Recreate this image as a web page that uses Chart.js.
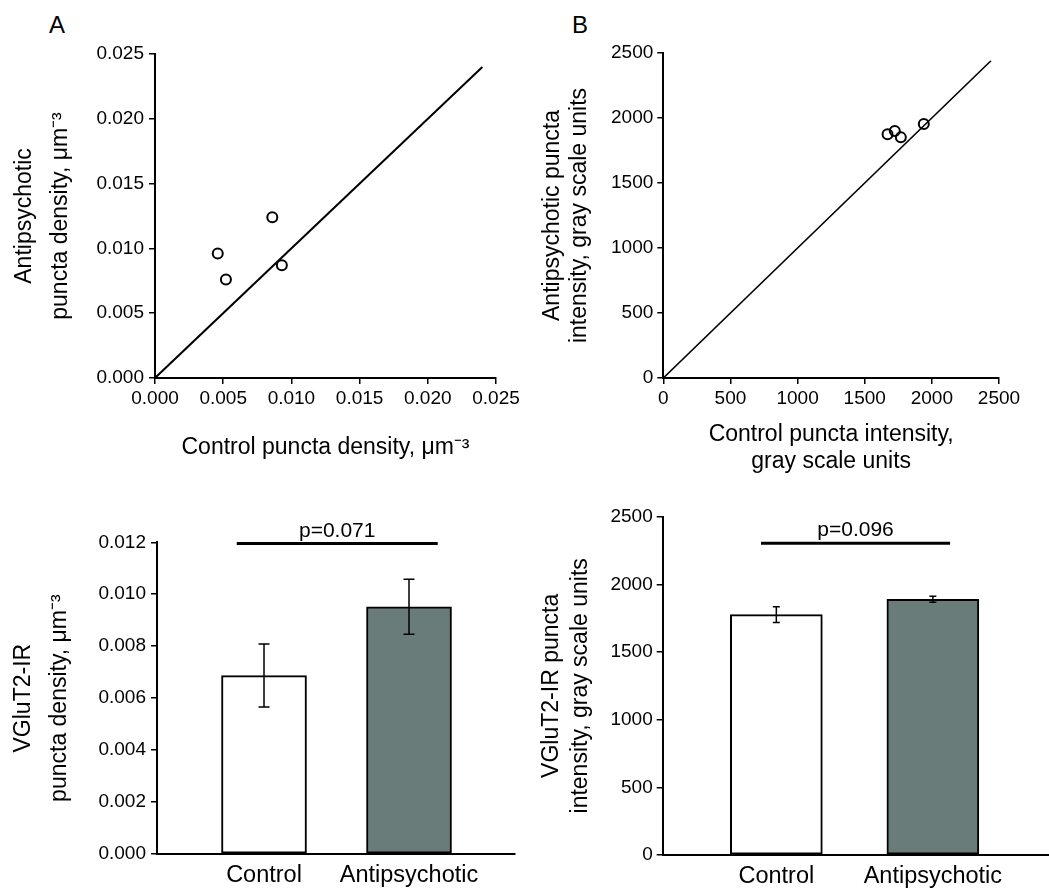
<!DOCTYPE html>
<html>
<head>
<meta charset="utf-8">
<script src="https://cdn.jsdelivr.net/npm/chart.js@4.4.1/dist/chart.umd.min.js"></script>
<style>
  body { margin: 0; background: #fff; width: 1049px; height: 888px; position: relative; overflow: hidden; }
  canvas { position: absolute; }
  .panel { position: absolute; font: 24px "Liberation Sans", Arial, sans-serif; line-height: 24px; color: #000; }
</style>
</head>
<body>
<div class="panel" style="left:49px;top:13px">A</div>
<div class="panel" style="left:572px;top:13px">B</div>
<canvas id="scatterDensity" width="540" height="480" style="left:0;top:0"></canvas>
<canvas id="scatterIntensity" width="529" height="480" style="left:520px;top:0"></canvas>
<canvas id="barDensity" width="540" height="408" style="left:0;top:480px"></canvas>
<canvas id="barIntensity" width="529" height="408" style="left:520px;top:480px"></canvas>
<script>
// per-subject values, control vs antipsychotic
const densityControl = [0.0046, 0.0052, 0.0086, 0.0093];
const densityAntipsychotic = [0.0096, 0.0076, 0.0124, 0.0087];
const intensityControl = [1670, 1724, 1769, 1940];
const intensityAntipsychotic = [1875, 1900, 1851, 1954];

// unity line ends
const densityUnity = [0, 0.024];
const intensityUnity = [0, 2440];

// group means +/- error
const groups = ['Control', 'Antipsychotic'];
const densityMeans = [0.00687, 0.00952];
const densityErrors = [0.00121, 0.00106];
const intensityMeans = [1776, 1890];
const intensityErrors = [58, 22];
const pLabels = ['p=0.071', 'p=0.096'];

// tick values
const densityTicks = [0, 0.005, 0.010, 0.015, 0.020, 0.025];
const intensityTicks = [0, 500, 1000, 1500, 2000, 2500];
const meanDensityTicks = [0, 0.002, 0.004, 0.006, 0.008, 0.010, 0.012];

const FONT = '"Liberation Sans", Arial, sans-serif';
Chart.defaults.font.family = FONT;
Chart.defaults.color = '#000';
Chart.defaults.animation = false;

const fixed3 = v => v.toFixed(3);
const plain = v => String(v);

// shared axis look: black 2px axis line, short outward ticks, no grid
function axis(o) {
  return {
    type: 'linear',
    min: o.min,
    max: o.max,
    afterBuildTicks: s => { s.ticks = o.ticks.map(v => ({ value: v })); },
    afterFit: s => {
      if (o.width != null) s.width = o.width;
      if (o.height != null) s.height = o.height;
    },
    border: { color: '#000', width: 2 },
    grid: { display: o.marks !== false, drawOnChartArea: false, color: '#000', lineWidth: 1.5, tickLength: 6 },
    ticks: { autoSkip: false, maxRotation: 0, color: '#000', padding: o.pad, font: { size: o.size || 19 }, callback: o.fmt },
    title: {
      display: !!o.title,
      text: o.title,
      color: '#000',
      font: { size: 23, lineHeight: o.lh || 1.2 },
      padding: o.titlePad || 0
    }
  };
}

function scatterConfig(xs, ys, unity, o) {
  return {
    type: 'scatter',
    data: {
      datasets: [{
        data: unity.map(v => ({ x: v, y: v })),
        showLine: true,
        pointRadius: 0,
        borderColor: '#000',
        borderWidth: o.lineWidth
      }, {
        data: xs.map((x, i) => ({ x: x, y: ys[i] })),
        pointRadius: 5,
        borderWidth: 2,
        borderColor: '#000',
        backgroundColor: 'rgba(0,0,0,0)'
      }]
    },
    options: {
      responsive: false,
      layout: { padding: o.padding },
      plugins: { legend: { display: false }, tooltip: { enabled: false } },
      scales: { x: o.x, y: o.y }
    }
  };
}

// error bars and the p-value bracket, drawn through the chart scales
const errorBars = {
  id: 'errorBars',
  afterDatasetsDraw(chart, args, opts) {
    const { ctx, scales: { x, y } } = chart;
    const meta = chart.getDatasetMeta(0);
    const values = chart.data.datasets[0].data;
    ctx.save();
    ctx.strokeStyle = '#000';
    ctx.lineWidth = 1.5;
    meta.data.forEach((bar, i) => {
      const v = values[i].y, e = opts.errors[i];
      const top = y.getPixelForValue(v + e), bottom = y.getPixelForValue(v - e);
      ctx.beginPath();
      ctx.moveTo(bar.x, top); ctx.lineTo(bar.x, bottom);
      ctx.moveTo(bar.x - opts.cap, top); ctx.lineTo(bar.x + opts.cap, top);
      ctx.moveTo(bar.x - opts.cap, bottom); ctx.lineTo(bar.x + opts.cap, bottom);
      ctx.stroke();
    });
    const yl = y.getPixelForValue(opts.level);
    const x1 = x.getPixelForValue(opts.span[0]), x2 = x.getPixelForValue(opts.span[1]);
    ctx.lineWidth = 3;
    ctx.beginPath(); ctx.moveTo(x1, yl); ctx.lineTo(x2, yl); ctx.stroke();
    ctx.fillStyle = '#000';
    ctx.font = '21px ' + FONT;
    ctx.textAlign = 'center';
    ctx.textBaseline = 'alphabetic';
    ctx.fillText(opts.label, (x1 + x2) / 2, yl - 7);
    ctx.restore();
  }
};

function barConfig(means, o) {
  return {
    type: 'bar',
    data: {
      datasets: [{
        data: means.map((m, i) => ({ x: i, y: m })),
        backgroundColor: ['#ffffff', '#6a7c79'],
        borderColor: '#000',
        borderWidth: 2,
        borderSkipped: false,
        barThickness: o.barWidth
      }]
    },
    plugins: [errorBars],
    options: {
      responsive: false,
      layout: { padding: o.padding },
      plugins: { legend: { display: false }, tooltip: { enabled: false }, errorBars: o.errorBars },
      scales: {
        x: Object.assign(axis({
          min: o.xMin, max: o.xMax, ticks: groups.map((g, i) => i),
          height: o.xHeight, marks: false, pad: 1, size: 23.5,
          fmt: v => groups[v] || ''
        }), { offset: false }),
        y: o.y
      }
    }
  };
}

new Chart(document.getElementById('scatterDensity'), scatterConfig(densityControl, densityAntipsychotic, densityUnity, {
  lineWidth: 2,
  padding: { left: 0, top: 54, right: 44, bottom: 0 },
  x: axis({ min: 0, max: 0.025, ticks: densityTicks, height: 102, pad: 3, fmt: fixed3,
    title: 'Control puncta density, μm⁻³', titlePad: { top: 0, bottom: 19 } }),
  y: axis({ min: 0, max: 0.025, ticks: densityTicks, width: 155, pad: 5, fmt: fixed3,
    title: ['Antipsychotic', 'puncta density, μm⁻³'], lh: 1.565, titlePad: { top: 7, bottom: 0 } })
}));

new Chart(document.getElementById('scatterIntensity'), scatterConfig(intensityControl, intensityAntipsychotic, intensityUnity, {
  lineWidth: 1.6,
  padding: { left: 0, top: 53, right: 50, bottom: 0 },
  x: axis({ min: 0, max: 2500, ticks: intensityTicks, height: 102, pad: 3, fmt: plain,
    title: ['Control puncta intensity,', 'gray scale units'], lh: 1.174, titlePad: { top: 0, bottom: 4.5 } }),
  y: axis({ min: 0, max: 2500, ticks: intensityTicks, width: 143.3, pad: 4, fmt: plain,
    title: ['Antipsychotic puncta', 'intensity, gray scale units'], lh: 1.174, titlePad: { top: 19.5, bottom: 0 } })
}));

new Chart(document.getElementById('barDensity'), barConfig(densityMeans, {
  barWidth: 85,
  padding: { left: 0, top: 62.3, right: 25, bottom: 0 },
  xMin: -0.738, xMax: 1.731, xHeight: 34,
  errorBars: { errors: densityErrors, cap: 5.5, level: 0.01195, span: [-0.188, 1.198], label: pLabels[0] },
  y: axis({ min: 0, max: 0.012, ticks: meanDensityTicks, width: 157, pad: 5, fmt: fixed3,
    title: ['VGluT2-IR', 'puncta density, μm⁻³'], lh: 1.565, titlePad: { top: 6, bottom: 0 } })
}));

new Chart(document.getElementById('barIntensity'), barConfig(intensityMeans, {
  barWidth: 92,
  padding: { left: 0, top: 36.7, right: 0, bottom: 0 },
  xMin: -0.726, xMax: 1.742, xHeight: 33,
  errorBars: { errors: intensityErrors, cap: 3.5, level: 2303, span: [-0.098, 1.11], label: pLabels[1] },
  y: axis({ min: 0, max: 2500, ticks: intensityTicks, width: 142.7, pad: 4, fmt: plain,
    title: ['VGluT2-IR puncta', 'intensity, gray scale units'], lh: 1.26, titlePad: { top: 17.5, bottom: 0 } })
}));
</script>
</body>
</html>
